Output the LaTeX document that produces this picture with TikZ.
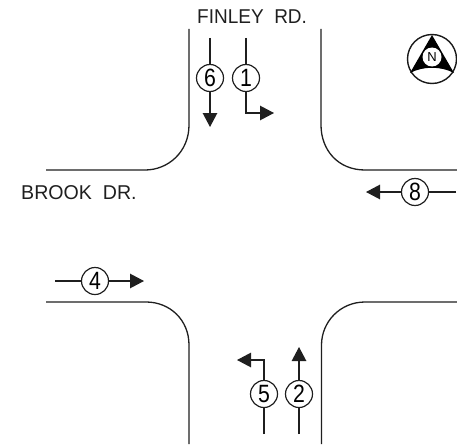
\documentclass[tikz,border=0pt]{standalone}
\usepackage{fontspec}
\setmainfont{Liberation Sans}
\usetikzlibrary{arrows.meta}
\tikzset{
  curb/.style={line width=1.3pt,black!88},
  lane/.style={line width=1.2pt,black!88},
  flow/.style={lane,-{Triangle[length=14pt,width=14.5pt]},shorten >=0pt},
  phase/.style={circle,draw=black!88,line width=1.2pt,minimum size=27pt,inner sep=0pt,font=\fontsize{25}{25}\selectfont},
  label/.style={inner sep=0pt,font=\fontsize{20}{20}\selectfont,text=black!88},
}
\begin{document}
\begin{tikzpicture}[x=1pt,y=-1pt]
\useasboundingbox (0,0) rectangle (457,444);
% curbs
\draw[curb] (189,29) -- (189,125) .. controls (189,152) and (168,170) .. (145,170) -- (46,170);
\draw[curb] (321,29) -- (321,125) .. controls (321,150) and (338,170) .. (365,170) -- (457,170);
\draw[curb] (46,302) -- (146,302) .. controls (170,302) and (189,320) .. (189,345) -- (189,444);
\draw[curb] (321.5,444) -- (321.5,345) .. controls (321.5,322) and (340,302) .. (365,302) -- (457,302);
% labels
\node[label,anchor=base west,xscale=0.95] (finley) at (197,23.5) {FINLEY\ \ RD.};
\node[label,anchor=base west,xscale=0.98] (brook) at (21,199.5) {BROOK\ \ DR.};
% phases
\node[phase] (p6) at (210,78) {\scalebox{0.85}[1]{6}};
\node[phase] (p1) at (246,78) {\scalebox{0.85}[1]{1}};
\node[phase] (p8) at (415,192) {\scalebox{0.85}[1]{8}};
\node[phase] (p4) at (95,281) {\scalebox{0.85}[1]{4}};
\node[phase] (p5) at (264,394) {\scalebox{0.85}[1]{5}};
\node[phase] (p2) at (299,394) {\scalebox{0.85}[1]{2}};
% free ends
\coordinate (s6) at (210,38); \coordinate (e6) at (210,127);
\coordinate (s1) at (246,38); \coordinate (e1) at (274,113);
\coordinate (s8) at (456,192); \coordinate (e8) at (366,192);
\coordinate (s4) at (55,281); \coordinate (e4) at (144,281);
\coordinate (s5) at (264,434); \coordinate (e5) at (237,360);
\coordinate (s2) at (299,434); \coordinate (e2) at (299,347);
% lanes
\draw[lane] (s6) -- (p6); \draw[flow] (p6) -- (e6);
\draw[lane] (s1) -- (p1); \draw[flow] (p1.south) |- (e1);
\draw[lane] (s8) -- (p8); \draw[flow] (p8) -- (e8);
\draw[lane] (s4) -- (p4); \draw[flow] (p4) -- (e4);
\draw[lane] (s5) -- (p5); \draw[flow] (p5.north) |- (e5);
\draw[lane] (s2) -- (p2); \draw[flow] (p2) -- (e2);
% north symbol
\node[circle,draw=black!90,line width=1.4pt,minimum size=49pt,inner sep=0pt] (compass) at (432,59) {};
\fill[black] (432,35) -- (454,73) .. controls (441,66) and (423,66) .. (410,73) -- cycle;
\node[circle,fill=white,minimum size=19pt,inner sep=0pt,font=\fontsize{13}{13}\selectfont] (north) at (432,57) {N};
\end{tikzpicture}
\end{document}
